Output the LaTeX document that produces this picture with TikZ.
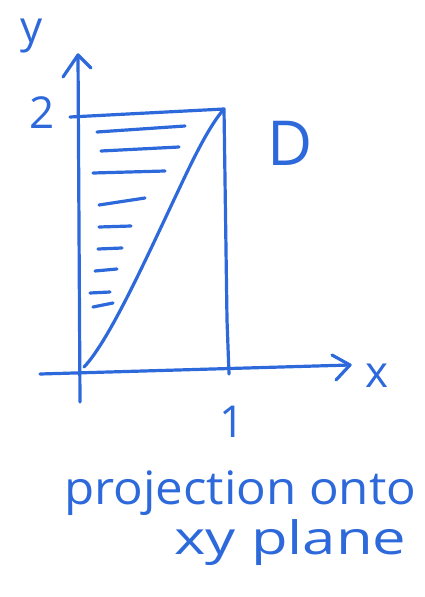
\documentclass[tikz,border=0pt]{standalone}
\usepackage{fontspec}
\setmainfont{Open Sans}
\definecolor{ink}{RGB}{45,105,218}
\begin{document}
\begin{tikzpicture}[x=1pt,y=-1pt,
  pen/.style={draw=ink,line width=3.2pt,line cap=round,line join=round},
  lab/.style={text=ink,inner sep=0pt,font=\fontsize{44}{44}\selectfont}]
\useasboundingbox (0,0) rectangle (425,597);
% axes
\coordinate (yb) at (80,402);
\coordinate (yt) at (78,55);
\coordinate (xl) at (40,374);
\coordinate (xr) at (350,365);
\draw[pen] (yb) -- (yt);
\draw[pen] (63,77) -- (yt) -- (91,68);
\draw[pen] (xl) -- (xr);
\draw[pen] (332,355) -- (xr) -- (336,380);
% rectangle
\coordinate (tl) at (70,117);
\coordinate (tr) at (224,109);
\coordinate (br) at (229,374);
\coordinate (o) at (84,367);
\draw[pen] (tl) -- (tr) -- (227,320) -- (br);
% diagonal
\draw[pen] (o) .. controls (110,340) and (150,250) .. (180,187) .. controls (195,155) and (210,125) .. (tr);
% hatching
\foreach \a/\b/\c/\d in {97/132/185/126, 101/151/179/147, 93/173/165/171, 99/205/145/198,
  99/227/131/226, 98/249/122/248, 95/271/117/269, 90/293/110/292, 93/307/113/303}
  \draw[pen] (\a,\b) -- (\c,\d);
% labels
\node[lab] (ly) at (32,36) {y};
\node[lab] (l2) at (42,113) {2};
\node[lab,font=\fontsize{62}{62}\selectfont] (lD) at (290,143) {D};
\node[lab] (lx) at (377,376) {x};
\node[lab] (l1) at (232,422) {1};
\node[lab,anchor=base west,font=\fontsize{46}{46}\selectfont] (t1) at (64,504) {\scalebox{1.07}[1]{projection onto}};
\node[lab,anchor=base west,font=\fontsize{46}{46}\selectfont] (t2) at (174,554) {\scalebox{1.3}[1]{xy plane}};
\end{tikzpicture}
\end{document}
